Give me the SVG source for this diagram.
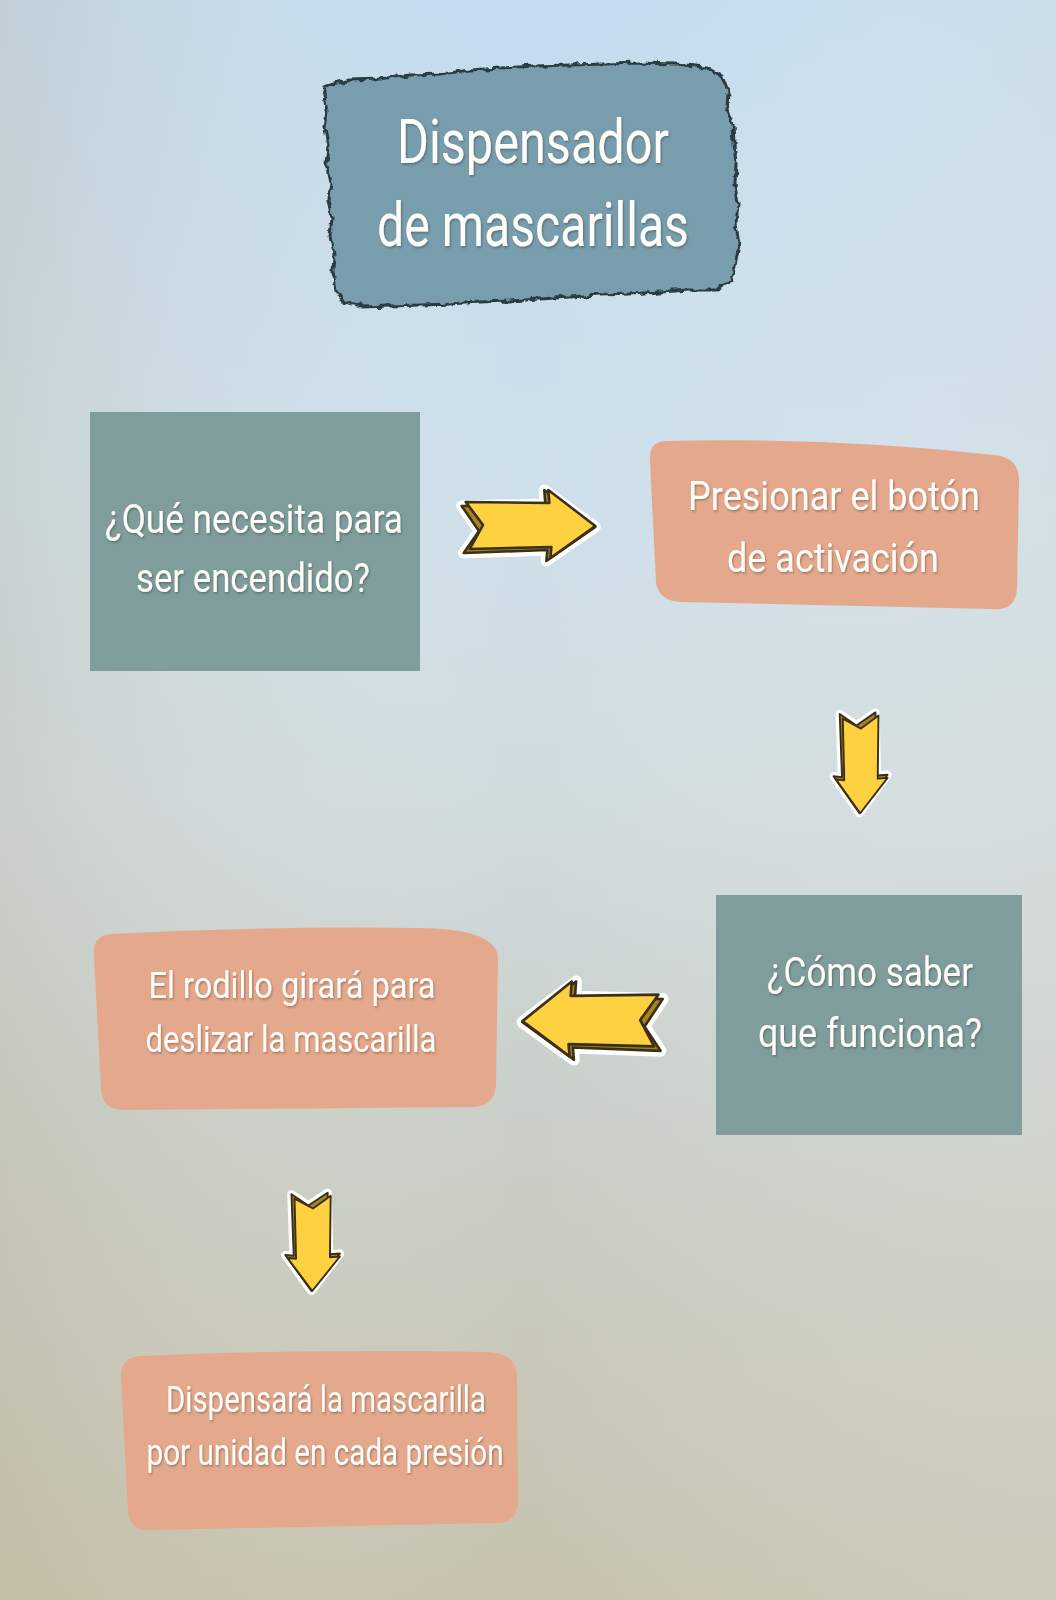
<svg xmlns="http://www.w3.org/2000/svg" width="1056" height="1600" viewBox="0 0 1056 1600">
<defs>
  <linearGradient id="bg" x1="0" y1="0" x2="0" y2="1">
    <stop offset="0" stop-color="#c3dbee"/>
    <stop offset="0.3" stop-color="#cddfea"/>
    <stop offset="0.5" stop-color="#d0dbde"/>
    <stop offset="0.7" stop-color="#c9cfc8"/>
    <stop offset="1" stop-color="#c6c1ad"/>
  </linearGradient>
  <linearGradient id="bg2" x1="0" y1="0" x2="1" y2="0">
    <stop offset="0" stop-color="#b9ae92" stop-opacity="0.25"/>
    <stop offset="0.5" stop-color="#ffffff" stop-opacity="0"/>
    <stop offset="1" stop-color="#e4e4dc" stop-opacity="0.25"/>
  </linearGradient>
  <filter id="rough" x="-5%" y="-5%" width="110%" height="110%">
    <feTurbulence type="fractalNoise" baseFrequency="0.12" numOctaves="2" seed="3" result="n"/>
    <feDisplacementMap in="SourceGraphic" in2="n" scale="7" xChannelSelector="R" yChannelSelector="G"/>
  </filter>
  <filter id="tshadow" x="-10%" y="-20%" width="120%" height="140%">
    <feDropShadow dx="1" dy="1.5" stdDeviation="1" flood-color="#000" flood-opacity="0.3"/>
  </filter>
  <g id="arrow">
    <path class="aw" d="M-67,-19 L15,-21 L14,-35 L64,2 L16,36 L17,25 L-65,28 L-50,6 Z"/>
    <path class="ab" d="M-67,-19 L15,-21 L14,-35 L64,2 L16,36 L17,25 L-65,28 L-50,6 Z"/>
    <path class="af" d="M-63,-23 L19,-22 L18,-35 L64,1 L20,33 L21,22 L-59,24 L-46,0 Z"/>
  </g>
</defs>
<style>
  .aw{fill:#ffffff;stroke:#ffffff;stroke-width:11;stroke-linejoin:round}
  .ab{fill:#a5851f;stroke:#3b2f16;stroke-width:2.5;stroke-linejoin:round}
  .af{fill:#fdd13f;stroke:#3b2f16;stroke-width:2.5;stroke-linejoin:round}
  .teal{fill:#7f9d9d}
  .salmon{fill:#e4a88d}
  .t{font-family:Roboto,"Noto Sans","DejaVu Sans",sans-serif;fill:#fffdf8;text-anchor:middle;lengthAdjust:spacingAndGlyphs}
</style>

<rect width="1056" height="1600" fill="url(#bg)"/>
<rect width="1056" height="1600" fill="url(#bg2)"/>

<g id="title">
  <path filter="url(#rough)" fill="#789dac" stroke="#2c3a42" stroke-width="3" d="M326,86 L350,80 L380,79 L410,75 L440,74 L470,70 L500,68 L535,66 L570,65 L605,64 L640,63 L675,64 L705,67 L722,76 L728,92 L727,108 L733,124 L734,144 L736,164 L735,184 L738,204 L736,224 L739,244 L736,262 L732,280 L716,290 L690,290 L660,292 L630,294 L600,295 L570,297 L540,299 L510,301 L480,302 L450,304 L420,305 L390,306 L362,307 L344,303 L336,290 L333,272 L334,254 L330,236 L332,218 L328,200 L330,182 L326,164 L328,146 L325,128 L327,110 L324,96 Z"/>
  <text class="t" x="533" y="163" font-size="62" textLength="272" lengthAdjust="spacingAndGlyphs" filter="url(#tshadow)">Dispensador</text>
  <text class="t" x="533" y="246" font-size="62" textLength="312" lengthAdjust="spacingAndGlyphs" filter="url(#tshadow)">de mascarillas</text>
</g>

<g id="n1">
  <rect class="teal" x="90" y="412" width="330" height="259"/>
  <text class="t" x="254" y="533" font-size="40" textLength="298" lengthAdjust="spacingAndGlyphs" filter="url(#tshadow)">¿Qué necesita para</text>
  <text class="t" x="253" y="592" font-size="40" textLength="234" lengthAdjust="spacingAndGlyphs" filter="url(#tshadow)">ser encendido?</text>
</g>

<g id="n2">
  <path class="salmon" d="M665,441 Q648,442 650,462 L656,582 Q658,601 682,602 L990,609 Q1016,612 1017,588 L1019,482 Q1020,458 995,455 Q830,437 665,441 Z"/>
  <text class="t" x="834" y="510" font-size="40" textLength="292" lengthAdjust="spacingAndGlyphs" filter="url(#tshadow)">Presionar el botón</text>
  <text class="t" x="833" y="572" font-size="40" textLength="212" lengthAdjust="spacingAndGlyphs" filter="url(#tshadow)">de activación</text>
</g>

<g id="n3">
  <rect class="teal" x="716" y="895" width="306" height="240"/>
  <text class="t" x="870" y="986" font-size="40" textLength="206" lengthAdjust="spacingAndGlyphs" filter="url(#tshadow)">¿Cómo saber</text>
  <text class="t" x="870" y="1047" font-size="40" textLength="224" lengthAdjust="spacingAndGlyphs" filter="url(#tshadow)">que funciona?</text>
</g>

<g id="n4">
  <path class="salmon" d="M112,934 Q260,926 420,928 Q497,929 498,958 L496,1084 Q495,1108 470,1107 L126,1110 Q103,1111 101,1090 L94,956 Q92,935 112,934 Z"/>
  <text class="t" x="292" y="998" font-size="36" textLength="287" lengthAdjust="spacingAndGlyphs" filter="url(#tshadow)">El rodillo girará para</text>
  <text class="t" x="291" y="1052" font-size="36" textLength="291" lengthAdjust="spacingAndGlyphs" filter="url(#tshadow)">deslizar la mascarilla</text>
</g>

<g id="n5">
  <path class="salmon" d="M142,1356 Q300,1349 488,1352 Q516,1353 517,1376 L518,1500 Q518,1524 494,1523 L152,1530 Q129,1532 128,1510 L121,1378 Q120,1357 142,1356 Z"/>
  <text class="t" x="326" y="1412" font-size="36" textLength="320" lengthAdjust="spacingAndGlyphs" filter="url(#tshadow)">Dispensará la mascarilla</text>
  <text class="t" x="325" y="1465" font-size="36" textLength="357" lengthAdjust="spacingAndGlyphs" filter="url(#tshadow)">por unidad en cada presión</text>
</g>

<g id="connectors">
  <use href="#arrow" transform="translate(530,525) scale(1.02,1.0)"/>
  <use href="#arrow" transform="translate(861,764) rotate(90) scale(0.77,0.76)"/>
  <use href="#arrow" transform="translate(591,1020) scale(-1.07,1.1)"/>
  <use href="#arrow" transform="translate(313,1243) rotate(90) scale(0.75,0.77)"/>
</g>
</svg>
